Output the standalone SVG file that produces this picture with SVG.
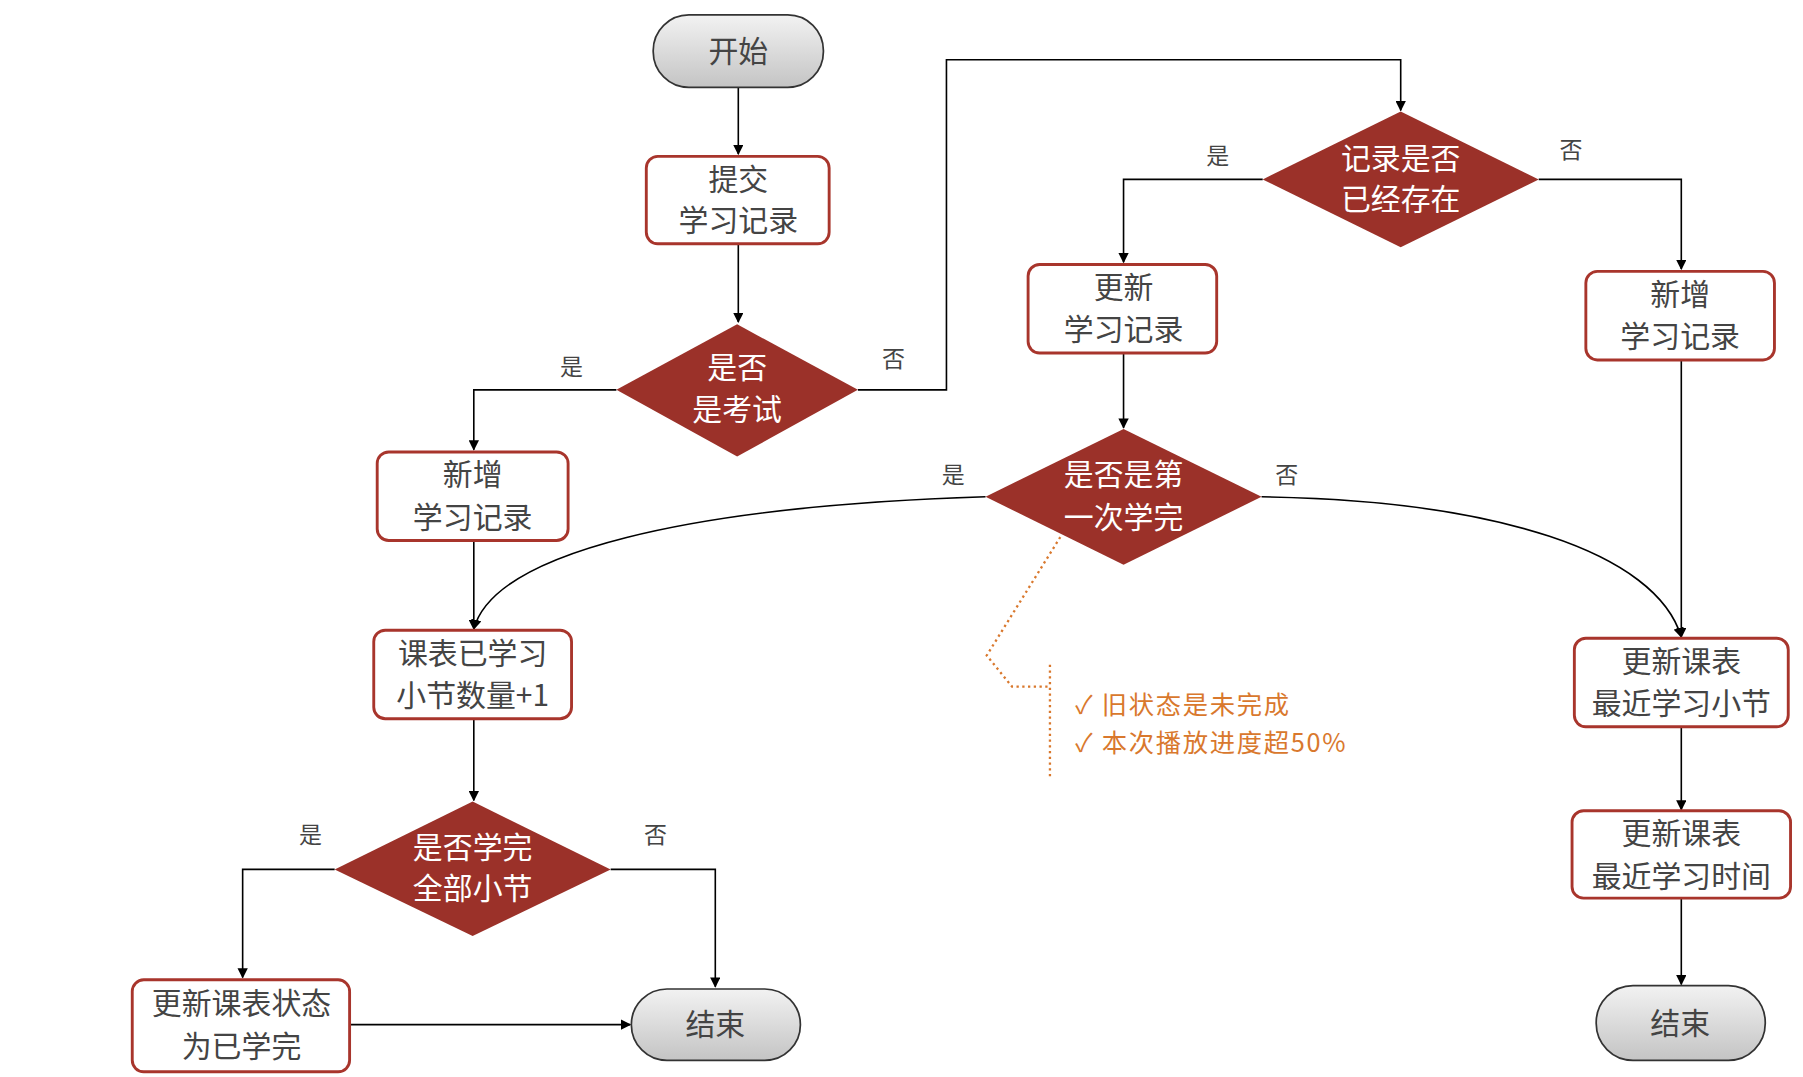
<svg xmlns="http://www.w3.org/2000/svg" width="1803" height="1077" viewBox="0 0 1803 1077">
<defs>
<linearGradient id="gp" x1="0" y1="0" x2="0" y2="1"><stop offset="0" stop-color="#f2f2f2"/><stop offset="1" stop-color="#c4c4c4"/></linearGradient>
<marker id="ar" viewBox="0 0 10 10" refX="9" refY="5" markerWidth="9" markerHeight="9" orient="auto" markerUnits="userSpaceOnUse"><path d="M0,0 L10,5 L0,10 z" fill="#000"/></marker>
<style>
.pill{fill:url(#gp);stroke:#333;stroke-width:1.5}
.box{fill:#fff;stroke:#a8352c;stroke-width:2.5}
.dia{fill:#9b3129}
.t{font-family:"Noto Sans CJK SC","Liberation Sans",sans-serif;font-size:26px;fill:#444;text-anchor:middle}
.w{fill:#fff}
.l{font-family:"Noto Sans CJK SC","Liberation Sans",sans-serif;font-size:20px;fill:#444;text-anchor:middle}
.c{fill:none;stroke:#000;stroke-width:1.4}
.n{font-family:"Noto Sans CJK SC","Liberation Sans",sans-serif;font-size:22px;fill:#d9782d;letter-spacing:1.5px}
</style>
</defs>
<rect width="1803" height="1077" fill="#fff"/>
<g transform="scale(1.15)">
<g id="connectors">
<path class="c" d="M642,76 V134" marker-end="url(#ar)"/>
<path class="c" d="M642,212 V280" marker-end="url(#ar)"/>
<path class="c" d="M536,339 H412 V391" marker-end="url(#ar)"/>
<path class="c" d="M746,339 H823 V52 H1218 V96" marker-end="url(#ar)"/>
<path class="c" d="M1098,156 H977 V228" marker-end="url(#ar)"/>
<path class="c" d="M1338,156 H1462 V234" marker-end="url(#ar)"/>
<path class="c" d="M977,307 V372" marker-end="url(#ar)"/>
<path class="c" d="M857,432 C600,440 430,480 412,547" marker-end="url(#ar)"/>
<path class="c" d="M1097,432 C1300,435 1440,480 1462,554" marker-end="url(#ar)"/>
<path class="c" d="M412,470 V547" marker-end="url(#ar)"/>
<path class="c" d="M1462,313 V554" marker-end="url(#ar)"/>
<path class="c" d="M1462,632 V704" marker-end="url(#ar)"/>
<path class="c" d="M1462,781 V856" marker-end="url(#ar)"/>
<path class="c" d="M412,625 V696" marker-end="url(#ar)"/>
<path class="c" d="M291,756 H211 V850" marker-end="url(#ar)"/>
<path class="c" d="M531,756 H622 V858" marker-end="url(#ar)"/>
<path class="c" d="M304,891 H548" marker-end="url(#ar)"/>
<text class="l" x="497" y="326">是</text>
<text class="l" x="777" y="319">否</text>
<text class="l" x="1059" y="143">是</text>
<text class="l" x="1366" y="137">否</text>
<text class="l" x="829" y="420">是</text>
<text class="l" x="1119" y="420">否</text>
<text class="l" x="270" y="733">是</text>
<text class="l" x="570" y="733">否</text>
</g>
<g id="start"><rect class="pill" x="568" y="13" width="148" height="63" rx="31"/><text class="t" x="642" y="54">开始</text></g>
<g id="submit"><rect class="box" x="562" y="136" width="159" height="76" rx="10"/><text class="t" x="642" y="165">提交</text><text class="t" x="642" y="201">学习记录</text></g>
<g id="isExam"><polygon class="dia" points="641,282 746,339 641,397 536,339"/><text class="t w" x="641" y="329">是否</text><text class="t w" x="641" y="365">是考试</text></g>
<g id="addL"><rect class="box" x="328" y="393" width="166" height="77" rx="10"/><text class="t" x="411" y="422">新增</text><text class="t" x="411" y="459">学习记录</text></g>
<g id="exists"><polygon class="dia" points="1218,97 1338,156 1218,215 1098,156"/><text class="t w" x="1218" y="147">记录是否</text><text class="t w" x="1218" y="183">已经存在</text></g>
<g id="update"><rect class="box" x="894" y="230" width="164" height="77" rx="10"/><text class="t" x="977" y="259">更新</text><text class="t" x="977" y="296">学习记录</text></g>
<g id="addR"><rect class="box" x="1379" y="236" width="164" height="77" rx="10"/><text class="t" x="1461" y="265">新增</text><text class="t" x="1461" y="302">学习记录</text></g>
<g id="first"><polygon class="dia" points="977,373 1097,432 977,491 857,432"/><text class="t w" x="977" y="422">是否是第</text><text class="t w" x="977" y="459">一次学完</text></g>
<g id="count"><rect class="box" x="325" y="548" width="172" height="77" rx="10"/><text class="t" x="411" y="577">课表已学习</text><text class="t" x="411" y="614">小节数量+1</text></g>
<g id="allDone"><polygon class="dia" points="411,697 531,756 411,814 291,756"/><text class="t w" x="411" y="746">是否学完</text><text class="t w" x="411" y="782">全部小节</text></g>
<g id="setDone"><rect class="box" x="115" y="852" width="189" height="80" rx="10"/><text class="t" x="210" y="882">更新课表状态</text><text class="t" x="210" y="919">为已学完</text></g>
<g id="endL"><rect class="pill" x="549" y="860" width="147" height="62" rx="31"/><text class="t" x="622" y="900">结束</text></g>
<g id="lastSection"><rect class="box" x="1369" y="555" width="186" height="77" rx="10"/><text class="t" x="1462" y="584">更新课表</text><text class="t" x="1462" y="621">最近学习小节</text></g>
<g id="lastTime"><rect class="box" x="1367" y="705" width="190" height="76" rx="10"/><text class="t" x="1462" y="734">更新课表</text><text class="t" x="1462" y="771">最近学习时间</text></g>
<g id="endR"><rect class="pill" x="1388" y="857" width="147" height="65" rx="32"/><text class="t" x="1461" y="899">结束</text></g>
<g id="note">
<path d="M922,467 L858,570 L880,597 L913,597" fill="none" stroke="#d9782d" stroke-width="2" stroke-dasharray="2,3"/>
<path d="M913,578 V678" fill="none" stroke="#d9782d" stroke-width="2" stroke-dasharray="2,3"/>
<text class="n" x="935" y="621">✓  旧状态是未完成</text>
<text class="n" x="935" y="654">✓  本次播放进度超50%</text>
</g>
</g>
</svg>
